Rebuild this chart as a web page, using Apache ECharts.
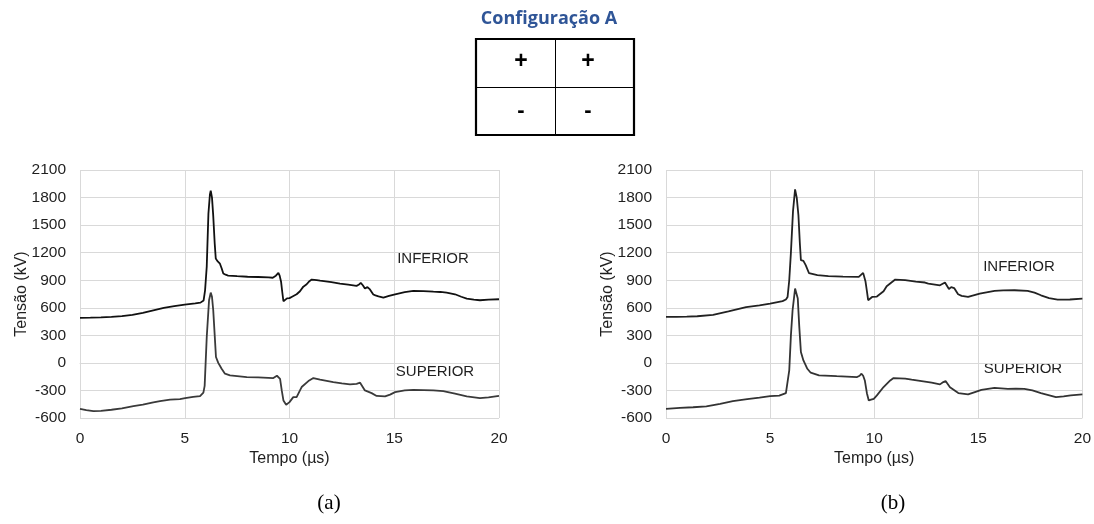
<!DOCTYPE html>
<html>
<head>
<meta charset="utf-8">
<script src="https://cdn.jsdelivr.net/npm/echarts@6/dist/echarts.min.js"></script>
<style>
  html, body { margin: 0; padding: 0; background: #fff; }
  #chart { width: 1094px; height: 524px; }
</style>
</head>
<body>
<div id="chart"></div>
<script>
// Tick values shared by both panels
const timeTicks = [0, 5, 10, 15, 20];
const voltageTicks = [-600, -300, 0, 300, 600, 900, 1200, 1500, 1800, 2100];

// Panel (a): [tempo µs, tensão kV]
const inferiorA = [[0,490],[0.5,492],[1,495],[1.5,500],[2,510],[2.5,523],[3,545],[3.5,572],[4,598],[4.5,618],[5,635],[5.5,648],[5.75,656],[5.9,680],[5.97,790],[6.05,1050],[6.13,1627],[6.2,1830],[6.24,1875],[6.3,1800],[6.36,1600],[6.43,1300],[6.48,1136],[6.56,1108],[6.62,1100],[6.68,1080],[6.76,1030],[6.84,973],[6.95,960],[7.07,951],[7.5,944],[8,938],[8.5,935],[9,930],[9.2,927],[9.28,915],[9.35,950],[9.47,980],[9.53,950],[9.6,880],[9.65,780],[9.71,671],[9.8,690],[9.88,702],[10,705],[10.1,718],[10.34,747],[10.5,780],[10.66,830],[10.82,856],[10.95,890],[11.06,907],[11.3,900],[11.46,895],[12,880],[12.41,864],[12.8,852],[13.2,838],[13.3,850],[13.4,871],[13.5,845],[13.6,809],[13.72,825],[13.84,800],[14.0,745],[14.1,735],[14.25,725],[14.48,711],[14.75,730],[15.04,747],[15.5,770],[15.91,784],[16.4,782],[16.87,776],[17.2,772],[17.5,765],[17.9,747],[18.2,720],[18.46,700],[18.8,688],[19.09,682],[19.5,688],[20,693]];
const superiorA = [[0,-500],[0.3,-515],[0.64,-526],[1,-522],[1.5,-510],[2,-495],[2.55,-471],[3,-455],[3.5,-430],[3.82,-417],[4.3,-400],[4.77,-394],[5.02,-384],[5.4,-370],[5.73,-362],[5.81,-354],[5.89,-324],[5.95,-250],[6.05,282],[6.16,682],[6.24,765],[6.3,720],[6.36,573],[6.43,300],[6.49,64],[6.6,0],[6.76,-64],[6.92,-118],[7.16,-136],[7.96,-154],[8.5,-158],[9.23,-165],[9.32,-183],[9.4,-140],[9.47,-125],[9.55,-173],[9.63,-300],[9.71,-409],[9.84,-456],[10,-427],[10.18,-373],[10.34,-373],[10.5,-300],[10.58,-263],[10.9,-198],[11.14,-165],[11.46,-183],[12.09,-209],[12.5,-222],[12.89,-234],[13.2,-228],[13.37,-216],[13.6,-300],[13.92,-329],[14.16,-360],[14.56,-365],[14.8,-345],[15.04,-318],[15.5,-300],[15.91,-293],[16.4,-296],[16.87,-300],[17.34,-307],[17.9,-335],[18.46,-365],[19.09,-383],[19.5,-375],[20,-358]];

// Panel (b): [tempo µs, tensão kV]
const inferiorB = [[0,500],[0.5,500],[1,503],[1.5,508],[2.26,522],[3,560],[3.85,607],[4.49,625],[5,645],[5.6,672],[5.76,690],[5.84,718],[5.92,900],[6.0,1200],[6.1,1650],[6.2,1889],[6.28,1800],[6.36,1610],[6.43,1300],[6.48,1118],[6.6,1111],[6.71,1064],[6.87,976],[7.27,955],[7.8,945],[8.5,940],[9.26,936],[9.35,918],[9.47,980],[9.53,960],[9.58,890],[9.65,780],[9.71,682],[9.9,718],[10.13,722],[10.21,736],[10.45,780],[10.6,835],[10.69,850],[11.01,907],[11.49,900],[12,885],[12.44,875],[12.6,864],[13.16,845],[13.24,848],[13.4,875],[13.59,805],[13.7,825],[13.84,815],[14.03,747],[14.2,730],[14.51,718],[15.07,754],[15.78,784],[16.2,790],[16.74,791],[17.37,784],[17.7,765],[18.01,736],[18.4,705],[18.81,689],[19.4,690],[20,700]];
const superiorB = [[0,-500],[0.67,-489],[1.3,-483],[1.94,-474],[2.6,-445],[3.21,-417],[3.9,-395],[4.49,-378],[5,-362],[5.44,-356],[5.76,-329],[5.92,-82],[6.0,300],[6.08,573],[6.2,809],[6.27,790],[6.33,700],[6.4,400],[6.48,118],[6.6,27],[6.79,-64],[6.95,-107],[7.35,-136],[8.2,-145],[9.18,-154],[9.3,-140],[9.39,-118],[9.47,-140],[9.55,-191],[9.65,-330],[9.74,-409],[9.85,-400],[9.98,-391],[10.13,-354],[10.21,-343],[10.45,-263],[10.77,-191],[10.93,-165],[11.49,-172],[11.8,-183],[12.6,-209],[12.76,-216],[13.16,-234],[13.32,-209],[13.43,-198],[13.64,-265],[14.04,-329],[14.51,-343],[14.8,-320],[15.15,-293],[15.78,-271],[16.42,-282],[16.8,-280],[17.21,-282],[17.6,-300],[18.01,-329],[18.73,-372],[19.1,-365],[19.44,-354],[20,-343]];

const seriesNames = ['INFERIOR', 'SUPERIOR'];
const panelLabels = ['(a)', '(b)'];
const titleText = 'Configuração A';
const cellSigns = ['+', '+', '-', '-'];

const SANS = '"Liberation Sans", Arial, sans-serif';
const SERIF = '"Liberation Serif", "Times New Roman", serif';
const textColor = '#1f1f1f';
const gridColor = '#d9d9d9';

function xAxisFor(gridIndex) {
  return {
    type: 'value', gridIndex,
    min: timeTicks[0], max: timeTicks[timeTicks.length - 1], interval: 5,
    name: 'Tempo (µs)', nameLocation: 'middle', nameGap: 33, nameMoveOverlap: false,
    nameTextStyle: { fontFamily: SANS, fontSize: 16, color: textColor },
    axisLine: { show: true, lineStyle: { color: gridColor } },
    axisTick: { show: false },
    axisLabel: { fontFamily: SANS, fontSize: 15.5, color: textColor, margin: 13,
                 formatter: v => String(v) },
    splitLine: { show: true, lineStyle: { color: gridColor, width: 1 } }
  };
}
function yAxisFor(gridIndex) {
  return {
    type: 'value', gridIndex,
    min: voltageTicks[0], max: voltageTicks[voltageTicks.length - 1], interval: 300,
    name: 'Tensão (kV)', nameLocation: 'middle', nameGap: 50, nameMoveOverlap: false,
    nameTextStyle: { fontFamily: SANS, fontSize: 16, color: textColor },
    axisLine: { show: false },
    axisTick: { show: false },
    axisLabel: { fontFamily: SANS, fontSize: 15.5, color: textColor, margin: 14,
                 formatter: v => String(v) },
    splitLine: { show: true, lineStyle: { color: gridColor, width: 1 } }
  };
}
function lineSeries(name, data, idx, color) {
  return {
    type: 'line', name, data,
    xAxisIndex: idx, yAxisIndex: idx,
    showSymbol: false, symbol: 'none', smooth: false,
    lineStyle: { color, width: 1.8 },
    animation: false
  };
}

// Small 2x2 table under the title
const tbl = { x: 476, y: 39, w: 158, h: 96 };
const cellCenters = [[521, 62], [588, 62], [521, 111], [588, 111]];

const graphics = [
  { type: 'text', x: 549, y: 19,
    style: { text: titleText, font: 'bold 18px "Open Sans", sans-serif', fill: '#2F5597',
             textAlign: 'center', textVerticalAlign: 'middle' } },
  { type: 'rect', shape: { x: tbl.x, y: tbl.y, width: tbl.w, height: tbl.h },
    style: { fill: 'none', stroke: '#000', lineWidth: 2.2 } },
  { type: 'line', shape: { x1: 555.5, y1: tbl.y, x2: 555.5, y2: tbl.y + tbl.h },
    style: { stroke: '#000', lineWidth: 1 } },
  { type: 'line', shape: { x1: tbl.x, y1: 87.5, x2: tbl.x + tbl.w, y2: 87.5 },
    style: { stroke: '#000', lineWidth: 1 } }
];
cellSigns.forEach((s, i) => {
  graphics.push({
    type: 'text', x: cellCenters[i][0], y: cellCenters[i][1],
    style: { text: s, font: (s === '+' ? 'bold 23px ' : 'bold 22px ') + SANS, fill: '#000',
             textAlign: 'center', textVerticalAlign: 'middle' }
  });
});
// Panel captions
[[329, 503], [893, 503]].forEach((p, i) => {
  graphics.push({
    type: 'text', x: p[0], y: p[1],
    style: { text: panelLabels[i], font: '21px ' + SERIF, fill: '#000',
             textAlign: 'center', textVerticalAlign: 'middle' }
  });
});
// Curve names
[[433, 259, 0], [435, 372, 1], [1019, 267, 0], [1023, 369, 1]].forEach(p => {
  graphics.push({
    type: 'text', x: p[0], y: p[1],
    style: { text: seriesNames[p[2]], font: '15px ' + SANS, fill: textColor,
             textAlign: 'center', textVerticalAlign: 'middle' }
  });
});

const chart = echarts.init(document.getElementById('chart'), null, { renderer: 'canvas' });
chart.setOption({
  animation: false,
  backgroundColor: '#fff',
  grid: [
    { left: 80, top: 170, width: 419, height: 248 },
    { left: 666, top: 170, width: 419, height: 248 }
  ],
  xAxis: [xAxisFor(0), xAxisFor(1)],
  yAxis: [yAxisFor(0), yAxisFor(1)],
  series: [
    lineSeries(seriesNames[0], inferiorA, 0, '#111111'),
    lineSeries(seriesNames[1], superiorA, 0, '#3a3a3a'),
    lineSeries(seriesNames[0], inferiorB, 1, '#222222'),
    lineSeries(seriesNames[1], superiorB, 1, '#333333')
  ],
  graphic: graphics
});
</script>
</body>
</html>
